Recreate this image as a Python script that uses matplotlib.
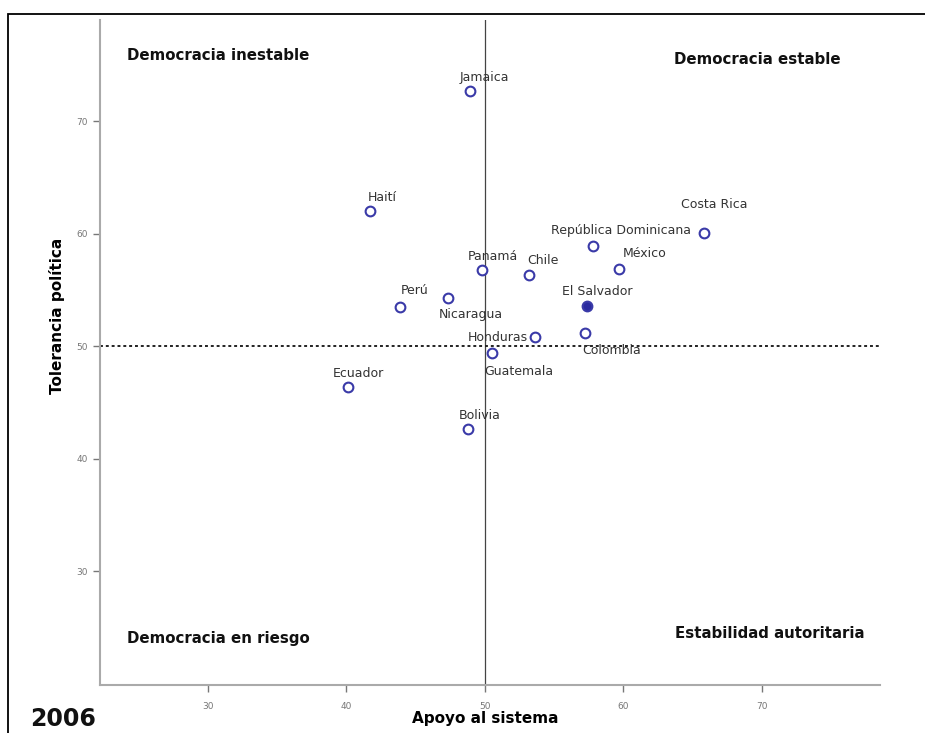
import matplotlib
matplotlib.use('Agg')
from matplotlib import pyplot as plt
from matplotlib.patches import Rectangle

paises = ['Jamaica', 'Haití', 'Costa Rica', 'República Dominicana', 'México',
          'Panamá', 'Chile', 'Perú', 'Nicaragua', 'El Salvador', 'Honduras',
          'Colombia', 'Guatemala', 'Ecuador', 'Bolivia']
apoyo = [48.9, 41.7, 65.8, 57.8, 59.7, 49.8, 53.2, 43.9, 47.3, 57.4, 53.6,
         57.2, 50.5, 40.1, 48.8]
tolerancia = [72.7, 62.0, 60.1, 58.9, 56.9, 56.8, 56.3, 53.5, 54.3, 53.6,
              50.8, 51.2, 49.4, 46.4, 42.6]
destacado = 'El Salvador'
xticks = [30, 40, 50, 60, 70]
yticks = [30, 40, 50, 60, 70]

# label offsets in pixels (dx, dy, ha)
offs = {
    'Jamaica': (-10, 13, 'left'),
    'Haití': (-2, 13, 'left'),
    'Costa Rica': (-22, 27, 'left'),
    'República Dominicana': (94, 15, 'right'),
    'México': (3, 14, 'left'),
    'Panamá': (-14, 13, 'left'),
    'Chile': (-2, 14, 'left'),
    'Perú': (0, 16, 'left'),
    'Nicaragua': (-8, -16, 'left'),
    'El Salvador': (-24, 14, 'left'),
    'Honduras': (-7, 0, 'right'),
    'Colombia': (-2, -17, 'left'),
    'Guatemala': (-7, -18, 'left'),
    'Ecuador': (-14, 13, 'left'),
    'Bolivia': (-9, 13, 'left'),
}

fig = plt.figure(figsize=(9.25, 7.33), dpi=100)
ax = fig.add_axes([0.108, 0.0655, 0.843, 0.9075])
ax.set_xlim(22.2, 78.5)
ax.set_ylim(19.9, 79.0)

ax.axvline(50, color='#444444', lw=0.9, zorder=1)
ax.axhline(50, color='#222222', lw=1.4, ls=(0, (1.5, 1.5)), zorder=1)

for p, x, y in zip(paises, apoyo, tolerancia):
    fc = '#2a2aa0' if p == destacado else 'white'
    ax.plot(x, y, 'o', ms=7, mfc=fc, mec='#3a3aa8', mew=1.5, zorder=3)
    dx, dy, ha = offs[p]
    ax.annotate(p, (x, y), xytext=(dx * 0.75, dy * 0.75), textcoords='offset points',
                ha=ha, va='center', fontsize=9, color='#333333', zorder=4)

ax.set_xticks(xticks)
ax.set_yticks(yticks)
ax.tick_params(labelsize=6.5, colors='#777777', length=5, width=1)
ax.tick_params(axis='x', pad=7)
for s in ['top', 'right']:
    ax.spines[s].set_visible(False)
for s in ['left', 'bottom']:
    ax.spines[s].set_color('#aaaaaa')
    ax.spines[s].set_linewidth(1.5)

qk = dict(fontsize=10.8, fontweight='bold', color='#111111', transform=ax.transAxes, va='center')
ax.text(0.035, 0.946, 'Democracia inestable', ha='left', **qk)
ax.text(0.95, 0.94, 'Democracia estable', ha='right', **qk)
ax.text(0.035, 0.07, 'Democracia en riesgo', ha='left', **qk)
ax.text(0.98, 0.078, 'Estabilidad autoritaria', ha='right', **qk)

ax.set_xlabel('Apoyo al sistema', fontsize=11, fontweight='bold')
ax.xaxis.set_label_coords(0.494, -0.039)
ax.set_ylabel('Tolerancia política', fontsize=11, fontweight='bold')
ax.yaxis.set_label_coords(-0.045, 0.555)
fig.text(0.033, 0.01, '2006', fontsize=17, fontweight='bold', color='#111111')

fig.patches.append(Rectangle((0.0086, -0.1), 1.2, 1.081, transform=fig.transFigure,
                             fill=False, ec='black', lw=1.3))

fig.savefig('out.png', dpi=100)
